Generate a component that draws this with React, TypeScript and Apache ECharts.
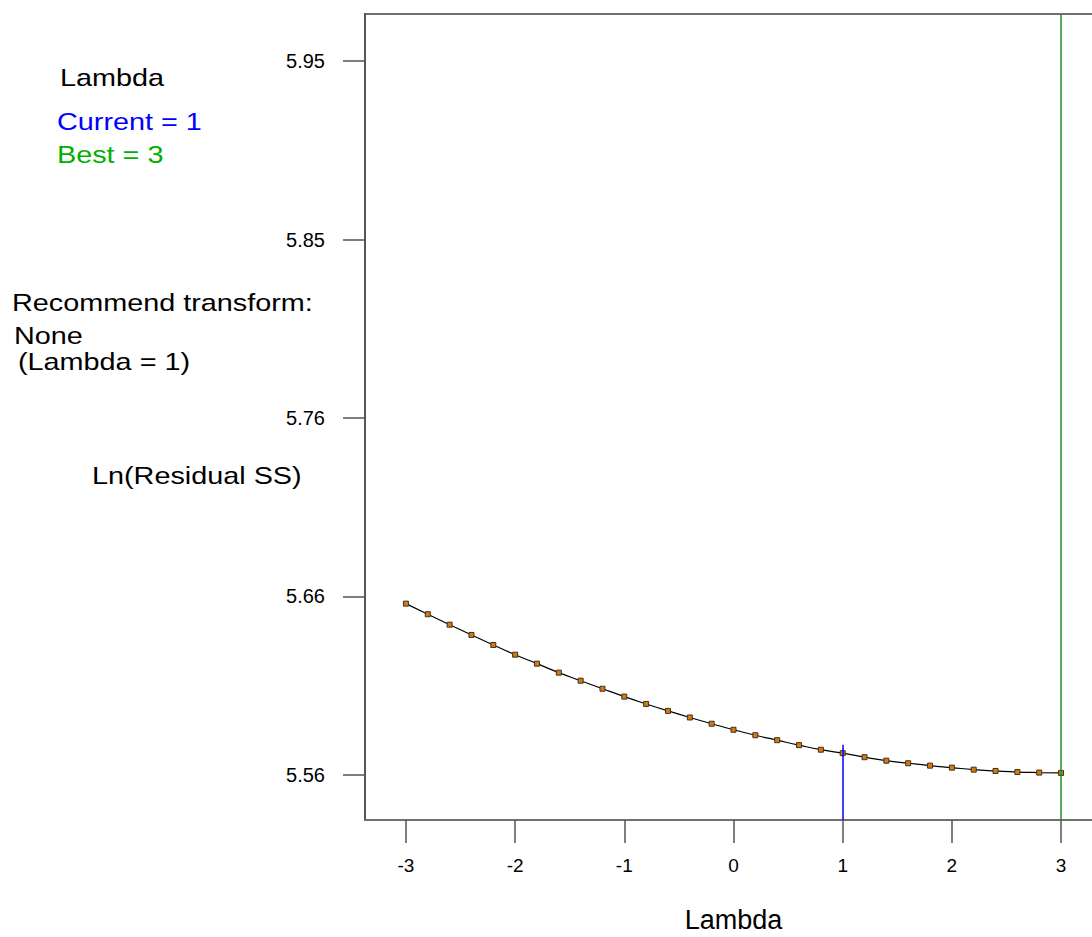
import React, { useEffect, useRef } from "react";
import * as echarts from "echarts";

const lambdas = [
  -3, -2.8, -2.6, -2.4, -2.2, -2, -1.8, -1.6, -1.4, -1.2, -1, -0.8, -0.6, -0.4, -0.2, 0,
  0.2, 0.4, 0.6, 0.8, 1, 1.2, 1.4, 1.6, 1.8, 2, 2.2, 2.4, 2.6, 2.8, 3,
];
const lnResidualSS = [
  5.6541, 5.6483, 5.6426, 5.637, 5.6315, 5.6262, 5.6213, 5.6164, 5.612, 5.6076, 5.6033,
  5.5993, 5.5955, 5.5919, 5.5885, 5.5852, 5.5822, 5.5795, 5.5768, 5.5743, 5.5724, 5.5702,
  5.5683, 5.5669, 5.5656, 5.5645, 5.5634, 5.5627, 5.5621, 5.5618, 5.5616,
];
const xTickValues = [-3, -2, -1, 0, 1, 2, 3];
const yTickValues = [5.5605, 5.658, 5.7555, 5.853, 5.9505];
const yTickLabels = ["5.56", "5.66", "5.76", "5.85", "5.95"];
const xRange = [-3.375, 3.375];
const yRange = [5.5359, 5.9762];
const currentLambda = 1;
const currentLineTop = 5.577;
const bestLambda = 3;

const FONT = "'Liberation Sans', Arial, Helvetica, sans-serif";

export default function App() {
  const ref = useRef<HTMLDivElement>(null);
  useEffect(() => {
    if (!ref.current) return;
    const chart = echarts.init(ref.current, undefined, { renderer: "svg" });
    const textStyle = (text: string, color: string, x: number, y: number) => ({
      type: "text",
      x,
      y,
      scaleX: 1.2,
      style: {
        text,
        fill: color,
        font: `24px ${FONT}`,
        textAlign: "left",
        textVerticalAlign: "middle",
      },
    });
    chart.setOption({
      animation: false,
      backgroundColor: "#ffffff",
      grid: {
        left: 365,
        top: 14,
        right: -10,
        bottom: 117,
        show: true,
        borderColor: "#707070",
        borderWidth: 2,
        containLabel: false,
        outerBoundsMode: "none",
      },
      xAxis: {
        type: "value",
        min: xRange[0],
        max: xRange[1],
        name: "Lambda",
        nameLocation: "middle",
        nameGap: 86,
        nameTextStyle: { fontFamily: FONT, fontSize: 27, color: "#000" },
        axisLine: { show: true, onZero: false, lineStyle: { color: "#707070", width: 2 } },
        axisTick: {
          show: true,
          inside: false,
          length: 23,
          customValues: xTickValues,
          lineStyle: { color: "#555", width: 1.5 },
        },
        axisLabel: {
          customValues: xTickValues,
          margin: 36,
          fontFamily: FONT,
          fontSize: 19,
          color: "#000",
          formatter: (v: number) => String(Math.round(v)),
        },
        splitLine: { show: false },
      },
      yAxis: {
        type: "value",
        min: yRange[0],
        max: yRange[1],
        axisLine: { show: true, onZero: false, lineStyle: { color: "#555", width: 2 } },
        axisTick: {
          show: true,
          inside: false,
          length: 22,
          customValues: yTickValues,
          lineStyle: { color: "#555", width: 1.5 },
        },
        axisLabel: {
          customValues: yTickValues,
          margin: 40,
          fontFamily: FONT,
          fontSize: 20,
          color: "#000",
          formatter: (v: number) => {
            let best = 0;
            for (let i = 0; i < yTickValues.length; i++) {
              if (Math.abs(yTickValues[i] - v) < Math.abs(yTickValues[best] - v)) best = i;
            }
            return yTickLabels[best];
          },
        },
        splitLine: { show: false },
      },
      graphic: [
        textStyle("Lambda", "#000000", 60, 78),
        textStyle("Current = 1", "#0000ff", 57, 122),
        textStyle("Best = 3", "#00b000", 57, 155),
        textStyle("Recommend transform:", "#000000", 12, 303),
        textStyle("None", "#000000", 14, 336),
        textStyle("(Lambda = 1)", "#000000", 18, 362),
        textStyle("Ln(Residual SS)", "#000000", 92, 476),
      ],
      series: [
        {
          type: "line",
          data: lambdas.map((l, i) => [l, lnResidualSS[i]]),
          smooth: true,
          symbol: "rect",
          symbolSize: 5,
          showSymbol: true,
          lineStyle: { color: "#000000", width: 1.2 },
          itemStyle: { color: "#e07800", borderColor: "#333333", borderWidth: 1 },
          z: 3,
          markLine: {
            silent: true,
            symbol: "none",
            label: { show: false },
            data: [
              [
                { coord: [currentLambda, currentLineTop], lineStyle: { color: "#0000ff", width: 1.5, type: "solid" } },
                { coord: [currentLambda, yRange[0]] },
              ],
              [
                { coord: [bestLambda, yRange[1]], lineStyle: { color: "#1f8f1f", width: 1.5, type: "solid" } },
                { coord: [bestLambda, yRange[0]] },
              ],
            ],
          },
        },
      ],
    });
    return () => chart.dispose();
  }, []);
  return (
    <div
      ref={ref}
      style={{ position: "absolute", left: 0, top: 0, width: 1092, height: 937 }}
    />
  );
}
